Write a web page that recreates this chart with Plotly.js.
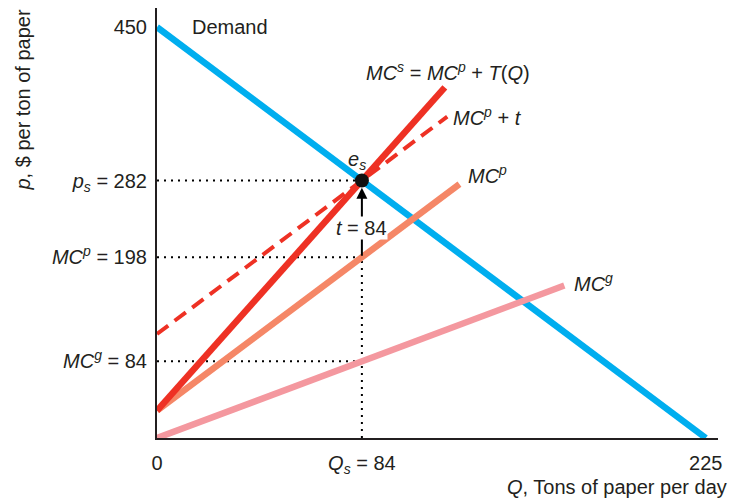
<!DOCTYPE html>
<html><head><meta charset="utf-8">
<script src="https://cdn.plot.ly/plotly-3.0.1.min.js"></script>
<style>body{margin:0;background:#fff}#chart{width:741px;height:500px}</style>
</head><body><div id="chart"></div>
<script>
// Data
const demandQ = [0, 225], demandP = [450, 0];
const mcsQ = [0, 118], mcsP = [30, 384];
const mcptQ = [0, 119], mcptP = [114, 352];
const mcpQ = [0, 124], mcpP = [30, 278];
const mcgQ = [0, 167], mcgP = [0, 167];
const eqQ = 84, eqP = 282, mcpAtQ = 198, mcgAtQ = 84;
const yTickVals = [450, 282, 198, 84];
const yTickText = ['450', '<i>p<sub>s</sub></i> = 282', '<i>MC<sup>p</sup></i> = 198', '<i>MC<sup>g</sup></i> = 84'];
const xTickVals = [0, 84, 225];
const xTickText = ['0', '<i>Q<sub>s</sub></i> = 84', '225'];

const txt = '#231F20';
const font = {family: 'Liberation Sans, Arial, sans-serif', size: 20, color: txt};
const dot = {color: '#000', width: 2, dash: '2px,5px'};

const traces = [
  {x: [0, eqQ], y: [eqP, eqP], mode: 'lines', line: dot},
  {x: [0, eqQ], y: [mcpAtQ, mcpAtQ], mode: 'lines', line: dot},
  {x: [0, eqQ], y: [mcgAtQ, mcgAtQ], mode: 'lines', line: dot},
  {x: [eqQ, eqQ], y: [0, mcpAtQ], mode: 'lines', line: dot},
  {x: demandQ, y: demandP, mode: 'lines', line: {color: '#00AEEF', width: 6.5}},
  {x: mcgQ, y: mcgP, mode: 'lines', line: {color: '#F4989F', width: 6.5}},
  {x: mcpQ, y: mcpP, mode: 'lines', line: {color: '#F58767', width: 6.5}},
  {x: mcptQ, y: mcptP, mode: 'lines', line: {color: '#EE3124', width: 4, dash: '14px,8px'}},
  {x: mcsQ, y: mcsP, mode: 'lines', line: {color: '#EE3124', width: 6.5}},
  {x: [eqQ], y: [eqP], mode: 'markers', marker: {color: '#111', size: 14}}
];

const layout = {
  width: 741, height: 500,
  margin: {l: 157, r: 23, t: 8, b: 62},
  showlegend: false,
  paper_bgcolor: '#fff', plot_bgcolor: '#fff',
  font: font,
  xaxis: {range: [0, 230], showgrid: false, zeroline: false, showline: true, linecolor: '#231F20', linewidth: 2,
          tickvals: xTickVals, ticktext: xTickText, ticks: '', ticklabelstandoff: 6, tickfont: font, fixedrange: true},
  yaxis: {range: [0, 471], showgrid: false, zeroline: false, showline: true, linecolor: '#231F20', linewidth: 2,
          tickvals: yTickVals, ticktext: yTickText, ticks: '', ticklabelstandoff: 4, tickfont: font, fixedrange: true},
  annotations: [
    {x: eqQ, y: eqP - 8, ax: eqQ, ay: mcpAtQ, axref: 'x', ayref: 'y', xref: 'x', yref: 'y', text: '',
     showarrow: true, arrowhead: 2, arrowsize: 1.1, arrowwidth: 2, arrowcolor: '#000'},
    {x: eqQ, y: 230, xref: 'x', yref: 'y', text: '<i>t</i> = 84', showarrow: false, bgcolor: '#fff', font: font, borderpad: 0},
    {x: 13.5, y: 450, xref: 'x', yref: 'y', text: 'Demand', showarrow: false, xanchor: 'left', font: font},
    {x: 85, y: 401, xref: 'x', yref: 'y', text: '<i>MC<sup>s</sup></i> = <i>MC<sup>p</sup></i> + <i>T</i>(<i>Q</i>)', showarrow: false, xanchor: 'left', font: font},
    {x: 120.5, y: 352, xref: 'x', yref: 'y', text: '<i>MC<sup>p</sup></i> + <i>t</i>', showarrow: false, xanchor: 'left', font: font},
    {x: 126.5, y: 289, xref: 'x', yref: 'y', text: '<i>MC<sup>p</sup></i>', showarrow: false, xanchor: 'left', font: font},
    {x: 170, y: 170, xref: 'x', yref: 'y', text: '<i>MC<sup>g</sup></i>', showarrow: false, xanchor: 'left', font: font},
    {x: 82, y: 304, xref: 'x', yref: 'y', text: '<i>e<sub>s</sub></i>', showarrow: false, font: font},
    {xref: 'paper', yref: 'paper', x: -0.2406, y: 1.0, xanchor: 'center', yanchor: 'top', textangle: -90,
     text: '<i>p</i>, $ per ton of paper', showarrow: false, font: font},
    {xref: 'paper', yref: 'paper', x: 1.02, y: -0.114, xanchor: 'right', yanchor: 'middle',
     text: '<i>Q</i>, Tons of paper per day', showarrow: false, font: font}
  ]
};

Plotly.newPlot('chart', traces, layout, {displayModeBar: false, staticPlot: true});
</script></body></html>
